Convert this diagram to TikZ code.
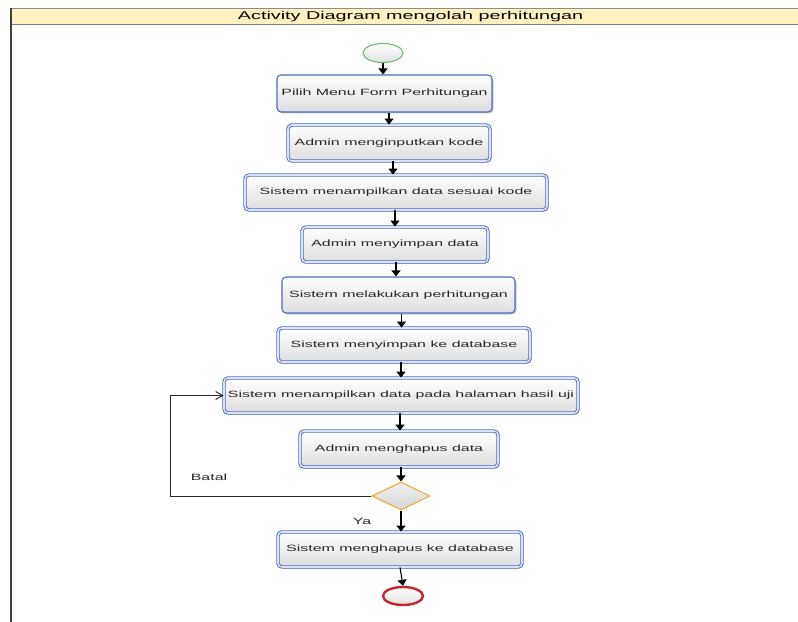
\documentclass[tikz,border=0pt]{standalone}
\usepackage{fontspec}
\setmainfont{Liberation Sans}[FakeStretch=1.75]
\usetikzlibrary{arrows.meta,shapes.geometric,shadows}

\definecolor{actblue}{RGB}{72,108,200}
\definecolor{headfill}{RGB}{255,241,192}
\definecolor{startgreen}{RGB}{104,192,104}
\definecolor{endred}{RGB}{192,40,45}
\definecolor{decorange}{RGB}{240,172,56}
\definecolor{inkgray}{RGB}{40,40,40}

\newcommand\actfont{\fontsize{9.1bp}{11bp}\selectfont}
\newcommand\headfont{\fontsize{11.3bp}{13bp}\selectfont}

\begin{document}
\begin{tikzpicture}[x=1bp,y=-1bp,
  act/.style={rectangle, rounded corners=4bp, draw=actblue, line width=1.1bp,
    top color=white, bottom color=black!13, font=\actfont, text=inkgray,
    inner sep=0pt,
    drop shadow={shadow xshift=1.5bp, shadow yshift=-1.5bp, opacity=0.22, fill=black}},
  actd/.style={act, line width=0.9bp, double=white!80!actblue, double distance=1.6bp},
  flow/.style={draw=black, line width=1.1bp, -{Triangle[length=6bp,width=9bp]}},
  loopline/.style={draw=inkgray, line width=0.9bp, -{Straight Barb[length=7bp,width=8bp]}},
  lbl/.style={font=\actfont, text=inkgray, inner sep=0pt},
  terminal/.style={ellipse, minimum width=40bp, top color=white, bottom color=black!12, inner sep=0pt}
]
\useasboundingbox (0,0) rectangle (798,622);
\fill[white] (0,0) rectangle (798,622);

% frame with title bar
\fill[headfill] (10,8) rectangle (798,24.5);
\draw[black!45, line width=1.6bp] (10,8.6) -- (798,8.6);
\draw[black!50, line width=1.2bp] (10,24.6) -- (798,24.6);
\draw[black!75, line width=1.6bp] (10.9,8) -- (10.9,622);
\node[font=\headfont, text=black, inner sep=0pt] (title) at (410.5,16.7) {Activity Diagram mengolah perhitungan};

% initial node
\node[terminal, draw=startgreen, line width=1.1bp, minimum height=19bp] (start) at (383,53) {};

% actions
\node[act,  minimum width=215bp, minimum height=37bp] (n1) at (384.5,93.5) {Pilih Menu Form Perhitungan};
\node[actd, minimum width=202bp, minimum height=36bp] (n2) at (389,143) {Admin menginputkan kode};
\node[actd, minimum width=302bp, minimum height=35bp] (n3) at (396,192.5) {Sistem menampilkan data sesuai kode};
\node[actd, minimum width=186bp, minimum height=35bp] (n4) at (395,244.5) {Admin menyimpan data};
\node[act,  minimum width=233bp, minimum height=36bp] (n5) at (398.5,295) {Sistem melakukan perhitungan};
\node[actd, minimum width=252bp, minimum height=34bp] (n6) at (404,345) {Sistem menyimpan ke database};
\node[actd, minimum width=354bp, minimum height=35bp] (n7) at (401,395.5) {Sistem menampilkan data pada halaman hasil uji};
\node[actd, minimum width=198bp, minimum height=36bp] (n8) at (399,449) {Admin menghapus data};

% decision
\node[diamond, aspect=2.07, draw=decorange, line width=1.1bp, top color=black!6, bottom color=black!16,
      minimum width=58bp, minimum height=28bp, inner sep=0pt] (dec) at (401,496) {};

\node[actd, minimum width=244bp, minimum height=35bp] (n9) at (400,549.5) {Sistem menghapus ke database};

% final node
\node[terminal, draw=endred, line width=2.4bp, minimum height=18bp] (stop) at (403,596) {};

% control flow
\draw[flow] (start.south) -- (start.south |- n1.north);
\draw[flow] (n1.south -| n2.north) -- (n2.north);
\draw[flow] (n2.south -| 393,0) -- (393,0 |- n3.north);
\draw[flow] (n3.south -| n4.north) -- (n4.north);
\draw[flow] (n4.south -| 396,0) -- (396,0 |- n5.north);
\draw[flow] (n5.south -| 401.5,0) -- (401.5,0 |- n6.north);
\draw[flow] (n6.south -| n7.north) -- (n7.north);
\draw[flow] (n7.south -| 400,0) -- (400,0 |- n8.north);
\draw[flow] (n8.south -| dec.north) -- (dec.north);
\draw[flow] (dec.south) -- (dec.south |- n9.north);
\draw[flow] (n9.south) -- (stop.north);

% cancel branch back to the result page
\coordinate (loopcorner) at (170,496);
\draw[loopline] (dec.west) -- (loopcorner) |- (n7.west);

% guards
\node[lbl] (batal) at (209,477) {Batal};
\node[lbl] (ya) at (362,521) {Ya};
\end{tikzpicture}
\end{document}
